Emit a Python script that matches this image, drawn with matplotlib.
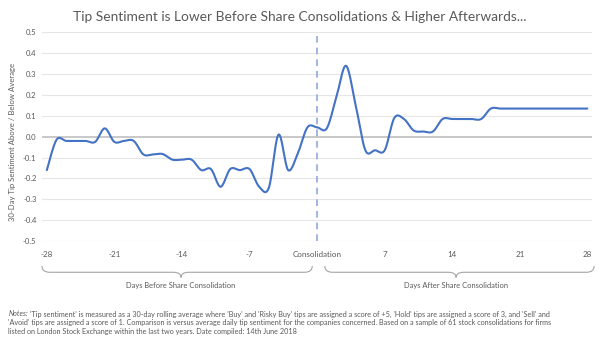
import numpy as np
import matplotlib
matplotlib.use("Agg")
import matplotlib.pyplot as plt
from matplotlib.path import Path
from matplotlib.patches import PathPatch

## DATA ##
days = list(range(-28, 29))
sentiment = [-0.16, -0.015, -0.02, -0.02, -0.02, -0.025, 0.04, -0.025, -0.02, -0.02,
             -0.085, -0.085, -0.083, -0.11, -0.11, -0.11, -0.16, -0.155, -0.24, -0.155,
             -0.16, -0.155, -0.24, -0.245, 0.01, -0.16, -0.08, 0.045,
             0.045,
             0.04, 0.19, 0.34, 0.15, -0.065, -0.065, -0.065, 0.09, 0.085, 0.03,
             0.025, 0.025, 0.085, 0.085, 0.085, 0.085, 0.085, 0.135, 0.135, 0.135,
             0.135, 0.135, 0.135, 0.135, 0.135, 0.135, 0.135, 0.135]
tick_pos = [-28, -21, -14, -7, 0, 7, 14, 21, 28]
tick_labels = ['-28', '-21', '-14', '-7', 'Consolidation', '7', '14', '21', '28']
y_ticks = [-0.5, -0.4, -0.3, -0.2, -0.1, 0.0, 0.1, 0.2, 0.3, 0.4, 0.5]

title = "Tip Sentiment is Lower Before Share Consolidations & Higher Afterwards..."
y_label = "30-Day Tip Sentiment Above / Below Average"
brace_labels = ["Days Before Share Consolidation", "Days After Share Consolidation"]
notes = ["'Tip sentiment' is measured as a 30-day rolling average where 'Buy' and 'Risky Buy' tips are assigned a score of +5, 'Hold' tips are assigned a score of 3, and 'Sell' and",
         "'Avoid' tips are assigned a score of 1. Comparison is versus average daily tip sentiment for the companies concerned. Based on a sample of 61 stock consolidations for firms",
         "listed on London Stock Exchange within the last two years. Date compiled: 14th June 2018"]

grey = '#595959'
plt.rcParams['font.family'] = ['Lato', 'DejaVu Sans']


## smoothed line like excel (bezier through the points) ##
def smooth(x, y, n=16):
    p = np.column_stack([x, y]).astype(float)
    p = np.vstack([p[0], p, p[-1]])
    t = np.linspace(0, 1, n, endpoint=False)[:, None]
    out = []
    for i in range(1, len(p) - 2):
        p0, p1, p2, p3 = p[i - 1], p[i], p[i + 1], p[i + 2]
        c1 = p1 + (p2 - p0) / 6
        c2 = p2 - (p3 - p1) / 6
        seg = ((1 - t) ** 3) * p1 + 3 * ((1 - t) ** 2) * t * c1 + 3 * (1 - t) * t ** 2 * c2 + t ** 3 * p2
        out.append(seg)
    out.append(p[-2][None, :])
    out = np.vstack(out)
    return out[:, 0], out[:, 1]


def brace(ax, x0, x1, xm, top, mid, tip, d=0.8):
    verts = [(x0, top), (x0, mid), (x0 + d, mid), (xm - d, mid), (xm, mid), (xm, tip),
             (xm, mid), (xm + d, mid), (x1 - d, mid), (x1, mid), (x1, top)]
    codes = [Path.MOVETO, Path.CURVE3, Path.CURVE3, Path.LINETO, Path.CURVE3, Path.CURVE3,
             Path.CURVE3, Path.CURVE3, Path.LINETO, Path.CURVE3, Path.CURVE3]
    patch = PathPatch(Path(verts, codes), transform=ax.get_xaxis_transform(),
                      facecolor='none', edgecolor='#a6a6a6', lw=0.8, clip_on=False)
    ax.add_patch(patch)


fig = plt.figure(figsize=(6, 3.38), dpi=100)
ax = fig.add_axes([0.07, 0.287, 0.917, 0.617])

for v in y_ticks:
    if v == 0:
        ax.axhline(v, color='#bfbfbf', lw=1.2, zorder=1)
    else:
        ax.axhline(v, color='#e6e6e6', lw=0.8, zorder=1)

ax.axvline(0, color='#8faadc', lw=1.2, ls=(0, (4, 3)), zorder=2)

sx, sy = smooth(days, sentiment)
ax.plot(sx, sy, color='#4472c4', lw=1.5, zorder=3, solid_capstyle='round')

ax.set_xlim(-28.5, 28.5)
ax.set_ylim(-0.5, 0.5)
ax.set_xticks(tick_pos)
ax.set_xticklabels(tick_labels)
ax.set_yticks(y_ticks)
ax.set_yticklabels(["%.1f" % v for v in y_ticks])
ax.tick_params(axis='both', length=0, labelsize=5.5, colors=grey)
ax.tick_params(axis='x', pad=7, labelsize=5.8)
ax.tick_params(axis='y', pad=4)
for s in ax.spines.values():
    s.set_visible(False)

ax.set_ylabel(y_label, fontsize=5.6, color=grey)
ax.yaxis.set_label_coords(-0.047, 0.475)

brace(ax, -28.5, -0.5, -14.1, -0.12, -0.15, -0.175)
brace(ax, 0.8, 28.7, 14.4, -0.12, -0.15, -0.175)
ax.text(-14.1, -0.212, brace_labels[0], transform=ax.get_xaxis_transform(),
        ha='center', va='center', fontsize=5.4, color=grey)
ax.text(14.4, -0.212, brace_labels[1], transform=ax.get_xaxis_transform(),
        ha='center', va='center', fontsize=5.4, color=grey)

fig.text(0.5, 1 - 17 / 338, title, ha='center', va='center', fontsize=9.9,
         color=grey)

## NOTES ##
renderer = fig.canvas.get_renderer()
n0 = fig.text(8.5 / 600, 1 - 314 / 338, "Notes:", ha='left', va='center', fontsize=5.25,
              color=grey, style='italic')
w = n0.get_window_extent(renderer).width
fig.text((8.5 + w + 2) / 600, 1 - 314 / 338, notes[0], ha='left', va='center',
         fontsize=5.25, color=grey)
fig.text(8.5 / 600, 1 - 323 / 338, notes[1], ha='left', va='center', fontsize=5.25, color=grey)
fig.text(8.5 / 600, 1 - 331.7 / 338, notes[2], ha='left', va='center', fontsize=5.25, color=grey)

fig.savefig('out.png', dpi=100)
